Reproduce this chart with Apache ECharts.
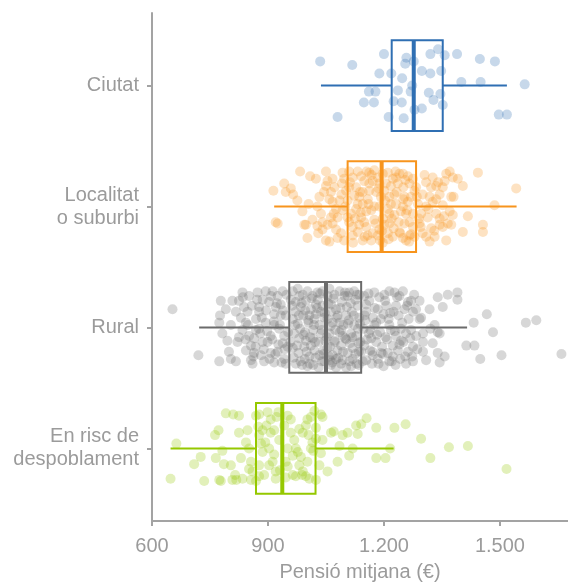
<!DOCTYPE html>
<html>
<head>
<meta charset="utf-8">
<script src="https://cdn.jsdelivr.net/npm/echarts@6/dist/echarts.min.js"></script>
<style>
    html,body{margin:0;padding:0;background:#fff;}
    #chart{width:568px;height:587px;}
</style>
</head>
<body>
<div id="chart"></div>
<script>
    var categories = ['Ciutat', 'Localitat\no suburbi', 'Rural', 'En risc de\ndespoblament'];
    var colors = ['#2f6fb3', '#f7941d', '#6b6b6b', '#95c800'];
    var xTicks = [600, 900, 1200, 1500];
    // min, Q1, mediana, Q3, max
    var boxCiutat = [1037, 1220, 1277, 1352, 1518];
    var boxLocalitat = [916, 1106, 1194, 1283, 1543];
    var boxRural = [722, 955, 1050, 1141, 1415];
    var boxRisc = [648, 869, 937, 1023, 1225];
    // [pensio, desplaçament vertical (jitter)]
    var ptsCiutat = [[1035,-0.20],[1118,-0.17],[1200,-0.26],[1188,-0.10],[1219,-0.10],[1258,-0.23],[1255,-0.18],[1277,-0.20],[1247,-0.06],[1320,-0.26],[1340,-0.30],[1357,-0.25],[1389,-0.26],[1298,-0.12],[1320,-0.10],[1348,-0.12],[1448,-0.22],[1487,-0.20],[1400,-0.03],[1450,-0.03],[1564,-0.01],[1161,0.05],[1178,0.05],[1236,0.04],[1269,0.05],[1273,0.00],[1316,0.06],[1346,0.07],[1148,0.14],[1174,0.14],[1225,0.13],[1246,0.14],[1328,0.12],[1352,0.16],[1279,0.20],[1298,0.19],[1080,0.26],[1212,0.26],[1251,0.27],[1497,0.24],[1518,0.24]];
    var ptsLocalitat = [[914,-0.13],[942,-0.19],[946,-0.12],[959,-0.15],[965,-0.10],[920,0.13],[925,0.14],[983,-0.29],[1009,-0.25],[1024,-0.23],[1050,-0.29],[1054,-0.21],[1050,-0.17],[1005,-0.02],[1033,-0.08],[998,0.15],[994,0.15],[1028,0.16],[1002,0.26],[1050,0.28],[1059,0.29],[1037,0.06],[1059,-0.06],[1067,-0.04],[1063,0.09],[1067,0.14],[1076,0.19],[1054,0.15],[1041,0.13],[1093,-0.28],[1097,-0.23],[1091,-0.19],[1102,-0.13],[1110,-0.16],[1085,-0.05],[1080,0.09],[1106,0.09],[1110,0.13],[1097,0.28],[1119,0.24],[1132,-0.29],[1141,-0.25],[1149,-0.21],[1128,-0.16],[1136,-0.08],[1145,-0.02],[1128,0.02],[1141,0.09],[1154,0.17],[1145,0.28],[1158,0.24],[1162,-0.28],[1175,-0.30],[1184,-0.24],[1162,-0.13],[1167,0.03],[1175,0.11],[1188,0.19],[1197,0.30],[1192,-0.08],[1205,-0.19],[1210,-0.28],[1218,-0.17],[1227,-0.10],[1231,-0.02],[1227,0.07],[1214,0.14],[1210,0.22],[1223,0.25],[1240,-0.27],[1249,-0.27],[1262,-0.25],[1266,-0.19],[1275,-0.23],[1279,-0.13],[1253,-0.08],[1249,0.00],[1257,0.06],[1266,0.13],[1275,0.17],[1266,0.24],[1249,0.26],[1257,0.28],[1283,-0.16],[1288,-0.02],[1296,0.06],[1292,0.14],[1309,-0.20],[1318,-0.08],[1326,-0.04],[1313,0.09],[1322,0.18],[1309,0.25],[1318,0.29],[1335,-0.06],[1344,-0.10],[1352,-0.16],[1357,-0.21],[1361,-0.27],[1370,-0.29],[1378,-0.24],[1391,-0.23],[1404,-0.17],[1374,-0.08],[1380,-0.08],[1352,-0.01],[1370,0.04],[1378,0.07],[1365,0.14],[1374,0.15],[1335,0.06],[1344,0.10],[1352,0.17],[1331,0.25],[1361,0.28],[1404,0.21],[1417,0.08],[1443,-0.28],[1456,0.15],[1456,0.21],[1486,-0.01],[1542,-0.15],[1335,-0.17],[1300,0.22],[1326,-0.24],[1119,-0.24],[1123,-0.09],[1132,-0.02],[1149,0.13],[1158,-0.06],[1162,-0.19],[1171,-0.21],[1180,-0.12],[1188,0.00],[1197,0.10],[1201,-0.13],[1210,0.02],[1214,-0.08],[1223,-0.23],[1236,-0.19],[1238,0.13],[1244,0.04],[1250,-0.16],[1262,-0.04],[1270,-0.08],[1275,0.06],[1119,0.17],[1132,0.21],[1115,0.06],[1154,0.04],[1171,0.22],[1197,-0.27],[1214,0.06],[1240,0.21],[1279,0.25],[1093,0.03],[1076,0.02],[1072,-0.16],[1063,-0.12],[1106,-0.05],[1136,0.15],[1167,0.28],[1184,0.24],[1201,0.15],[1218,-0.02],[1231,-0.24],[1253,0.14],[1089,0.22],[1028,0.00],[1015,0.11],[989,0.04],[976,-0.05],[1067,-0.23],[1041,0.19],[1309,0.00],[1322,-0.16],[1344,0.15],[1300,-0.10],[1188,-0.19],[1145,-0.12],[1110,-0.29],
        [1100,0.00],[1112,-0.20],[1125,0.10],[1138,-0.12],[1150,0.25],[1160,-0.02],[1168,-0.26],[1178,0.14],[1186,-0.15],[1195,0.20],[1203,-0.05],[1212,0.27],[1220,0.10],[1233,-0.12],[1242,0.22],[1255,-0.22],[1260,0.03],[1270,0.23],[1285,-0.08],[1295,0.17],[1305,-0.26],[1315,0.02],[1330,0.20],[1340,-0.20],[1355,0.08],[1090,-0.10],[1080,0.26],[1070,0.06],[1045,-0.12],[1030,0.22],[1120,0.30],[1155,-0.29],[1190,0.28],[1230,-0.29],[1265,0.29],[1140,0.05],[1175,0.00],[1225,0.18],[1250,-0.06],[1290,0.10]];
    var ptsRural = [[653,-0.15],[720,0.23],[774,0.28],[778,-0.22],[776,-0.10],[774,-0.04],[782,0.05],[799,0.20],[804,0.26],[808,-0.22],[825,-0.22],[834,-0.29],[830,-0.08],[834,0.02],[825,0.08],[843,0.19],[856,0.27],[860,0.30],[851,0.07],[864,0.09],[873,-0.29],[877,-0.17],[869,-0.07],[877,-0.13],[894,-0.30],[912,-0.30],[903,-0.21],[916,-0.11],[899,0.12],[907,0.21],[890,0.28],[916,0.29],[933,-0.19],[929,0.01],[938,0.13],[942,0.26],[946,-0.10],
        [791,-0.15],[804,-0.02],[817,-0.13],[821,0.12],[838,-0.17],[843,-0.04],[851,-0.26],[856,0.15],[864,0.21],[877,0.01],[882,0.23],[886,-0.23],[894,-0.04],[907,0.07],[916,-0.02],[925,-0.26],[925,0.20],[933,-0.10],[942,0.07],[946,0.30],[817,0.28],[795,0.11],[847,-0.13],[869,0.02],[886,0.12],[920,-0.17],[938,-0.30],[951,0.16],
        [964,-0.30],[977,-0.32],[990,-0.27],[1002,-0.30],[1015,-0.26],[1028,-0.29],[1041,-0.30],[972,-0.21],[985,-0.17],[998,-0.22],[1011,-0.15],[1024,-0.19],[1037,-0.13],[964,-0.07],[977,-0.03],[991,-0.10],[1005,-0.04],[1020,-0.07],[1033,-0.02],[1046,-0.08],[968,0.05],[981,0.09],[996,0.04],[1009,0.08],[1022,0.12],[1037,0.05],[1048,0.11],[964,0.17],[979,0.21],[994,0.16],[1007,0.24],[1020,0.19],[1033,0.23],[1046,0.28],[972,0.30],[988,0.31],[1002,0.32],[1017,0.31],[1031,0.33],[1043,0.19],
        [1059,-0.32],[1072,-0.27],[1085,-0.30],[1098,-0.26],[1110,-0.29],[1123,-0.30],[1136,-0.27],[1063,-0.19],[1076,-0.15],[1091,-0.21],[1104,-0.17],[1117,-0.13],[1132,-0.18],[1054,-0.07],[1067,-0.04],[1080,-0.10],[1095,-0.02],[1109,-0.06],[1123,-0.02],[1136,-0.08],[1059,0.05],[1072,0.11],[1085,0.04],[1100,0.09],[1112,0.13],[1128,0.07],[1139,0.12],[1054,0.17],[1067,0.23],[1080,0.19],[1093,0.27],[1106,0.21],[1119,0.26],[1135,0.20],[1063,0.31],[1076,0.33],[1089,0.30],[1102,0.33],[1115,0.32],[1129,0.30],[1060,0.16],
        [1149,-0.26],[1162,-0.22],[1175,-0.29],[1188,-0.25],[1201,-0.27],[1214,-0.30],[1227,-0.29],[1240,-0.26],[1249,-0.30],[1270,-0.22],[1283,-0.15],[1292,-0.22],[1154,-0.13],[1171,-0.08],[1184,-0.15],[1199,-0.11],[1212,-0.07],[1225,-0.13],[1238,-0.10],[1253,-0.15],[1264,-0.07],[1275,-0.13],[1147,0.01],[1161,0.05],[1175,-0.02],[1190,0.04],[1204,0.08],[1218,0.02],[1231,0.07],[1244,0.01],[1257,0.05],[1270,0.02],[1292,-0.07],[1149,0.15],[1164,0.19],[1180,0.12],[1195,0.16],[1210,0.21],[1223,0.15],[1236,0.19],[1250,0.12],[1262,0.20],[1275,0.16],[1301,0.05],[1154,0.27],[1169,0.30],[1184,0.26],[1199,0.32],[1214,0.28],[1230,0.31],[1242,0.26],[1257,0.30],[1273,0.24],[1301,0.20],[1309,0.27],
        [1318,-0.15],[1320,0.01],[1326,0.13],[1331,-0.02],[1339,0.04],[1344,0.05],[1339,-0.25],[1352,-0.17],[1365,-0.27],[1390,-0.29],[1390,-0.23],[1301,0.12],[1339,0.21],[1344,0.29],[1357,0.24],[1413,0.15],[1434,0.15],[1432,-0.04],[1466,-0.11],[1482,0.04],[1449,0.26],[1504,0.23],[1567,-0.04],[1594,-0.06],[1659,0.22],[1296,-0.08],
        [959,-0.23],[971,-0.13],[983,0.01],[995,0.26],[1007,-0.10],[1017,0.02],[1029,-0.23],[1040,0.28],[1011,0.15],[1024,-0.11],[981,-0.26],[998,0.11],[1041,-0.18],[1063,-0.13],[1074,0.02],[1089,0.15],[1102,-0.10],[1115,0.05],[1126,-0.23],[1135,0.31],[1060,0.27],[1085,-0.04],[1106,-0.26],[1119,0.17],[1093,0.07],[1054,-0.26],[1133,0.01],[1076,0.26],[1154,-0.19],[1180,-0.04],[1206,-0.18],[1223,0.24],[1244,0.11],[1262,-0.21],[1193,0.21],[1167,0.09],[1214,-0.02],[1231,-0.18],[1171,0.23],[1275,0.28],[1283,0.07],[1141,0.20],[1152,-0.06],
        [835,-0.25],[842,0.10],[848,-0.02],[858,-0.18],[862,0.24],[868,0.16],[872,-0.23],[880,0.05],[884,-0.08],[889,0.18],[895,-0.14],[898,0.03],[904,0.26],[908,-0.26],[911,0.10],[915,-0.05],[919,0.22],[923,-0.20],[927,0.14],[931,-0.02],[935,0.29],[939,-0.14],[943,0.18],[948,-0.27],[952,0.04],
        [958,0.12],[962,-0.18],[966,0.25],[970,-0.02],[975,0.15],[980,-0.10],[984,0.28],[987,-0.20],[992,0.06],[996,-0.14],[1000,0.20],[1004,-0.06],[1008,0.30],[1013,-0.24],[1016,0.09],[1019,-0.02],[1023,0.25],[1027,-0.16],[1031,0.12],[1035,-0.28],[1039,0.02],[1044,0.22],[1047,-0.12],[1052,0.08],[1056,-0.20],[1058,0.24],[1062,-0.01],[1066,0.29],[1069,-0.24],[1073,0.12],[1078,-0.08],[1082,0.25],[1087,-0.16],[1090,0.02],[1094,0.20],[1099,-0.29],[1103,0.10],[1107,-0.03],[1111,0.28],[1114,-0.20],[1118,0.08],[1122,-0.10],[1126,0.22],[1130,-0.27],[1134,0.13],[1138,-0.03],
        [1145,0.28],[1150,-0.10],[1156,0.10],[1160,-0.28],[1165,0.02],[1170,0.20],[1176,-0.16],[1182,0.06],[1186,0.30],[1192,-0.07],[1197,0.22],[1203,-0.22],[1208,0.10],[1216,-0.12],[1220,0.28],[1228,0.03],[1234,-0.25],[1240,0.14],[1247,-0.04],[1255,0.24],[1260,-0.18],[1268,0.09],[1278,-0.27],[1286,0.18]];
    var ptsRisc = [[663,-0.04],[648,0.25],[709,0.13],[726,0.07],[735,0.27],[763,-0.11],[772,-0.15],[765,0.08],[782,0.02],[774,0.26],[778,0.27],[791,-0.29],[810,-0.28],[825,-0.27],[786,0.13],[804,0.14],[815,0.22],[818,0.26],[808,0.26],[825,-0.13],[830,0.08],[847,-0.15],[851,0.00],[856,0.11],[851,0.17],[860,0.19],[869,-0.27],[877,-0.28],[875,-0.18],[899,-0.30],[896,-0.19],[907,-0.13],[916,-0.15],[882,-0.04],[893,-0.05],[903,0.00],[886,0.03],[877,0.14],[890,0.22],[869,0.27],[916,0.05],[912,0.11],[922,-0.26],[927,-0.30],[920,0.19],[931,0.18],[946,0.11],[951,0.15],[946,0.24],[964,0.22],[942,-0.19],[951,-0.27],[959,-0.13],[968,-0.07],[972,0.00],[977,0.03],[981,-0.16],[990,-0.13],[998,-0.19],[1011,-0.26],[1020,-0.31],[1037,-0.28],[1041,-0.26],[1005,-0.11],[1015,-0.05],[1011,0.00],[1017,0.02],[1024,-0.08],[1037,0.04],[1041,-0.07],[972,0.23],[988,0.22],[998,0.23],[1007,0.25],[1024,0.26],[981,0.14],[1002,0.11],[1054,0.19],[1063,-0.13],[1070,-0.14],[1080,0.11],[1085,-0.02],[1093,-0.11],[1106,-0.13],[1110,0.06],[1119,0.00],[1128,-0.19],[1132,-0.12],[1141,-0.20],[1155,-0.25],[1180,-0.17],[1180,0.08],[1204,0.08],[1216,0.00],[1227,-0.17],[1256,-0.20],[1296,-0.08],[1320,0.08],[1368,-0.01],[1417,-0.02],[1517,0.17],
        [877,-0.11],[903,0.14],[920,0.25],[951,0.00],[964,0.06],[985,0.07],[886,-0.15],[907,-0.24],[929,-0.07],[959,-0.24],[990,0.19],[1002,-0.24],[1024,-0.17],[1033,0.14],[843,-0.05],[834,0.25],[856,0.26],[877,0.23]];

    var boxStats = [boxCiutat, boxLocalitat, boxRural, boxRisc];
    var pointSets = [ptsCiutat, ptsLocalitat, ptsRural, ptsRisc];
    var boxHeight = 0.75;   // en unitats de categoria
    var textColor = '#9b9b9b';
    var axisColor = '#a3a3a3';

    var chart = echarts.init(document.getElementById('chart'));

    var series = [];
    // punts (jitter)
    for (var i = 0; i < pointSets.length; i++) {
        var data = [];
        for (var j = 0; j < pointSets[i].length; j++) {
            data.push([pointSets[i][j][0], i + 1 + pointSets[i][j][1]]);
        }
        series.push({
            type: 'scatter',
            data: data,
            symbol: 'circle',
            symbolSize: 10,
            itemStyle: {color: colors[i], opacity: 0.27, borderWidth: 0},
            silent: true,
            z: 2
        });
    }

    // caixes
    var boxData = [];
    for (var k = 0; k < boxStats.length; k++) {
        boxData.push([k + 1].concat(boxStats[k]));
    }
    series.push({
        type: 'custom',
        data: boxData,
        encode: {x: [1, 2, 3, 4, 5], y: 0},
        z: 5,
        silent: true,
        renderItem: function (params, api) {
            var cat = api.value(0);
            var lo = api.coord([api.value(1), cat]);
            var q1 = api.coord([api.value(2), cat]);
            var md = api.coord([api.value(3), cat]);
            var q3 = api.coord([api.value(4), cat]);
            var hi = api.coord([api.value(5), cat]);
            var h = api.size([0, boxHeight])[1];
            var c = colors[params.dataIndex];
            return {
                type: 'group',
                children: [
                    {type: 'line', shape: {x1: lo[0], y1: lo[1], x2: q1[0], y2: q1[1]}, style: {stroke: c, lineWidth: 2}},
                    {type: 'line', shape: {x1: q3[0], y1: q3[1], x2: hi[0], y2: hi[1]}, style: {stroke: c, lineWidth: 2}},
                    {type: 'rect', shape: {x: q1[0], y: q1[1] - h / 2, width: q3[0] - q1[0], height: h}, style: {stroke: c, fill: 'none', lineWidth: 2}},
                    {type: 'line', shape: {x1: md[0], y1: md[1] - h / 2, x2: md[0], y2: md[1] + h / 2}, style: {stroke: c, lineWidth: 4}}
                ]
            };
        }
    });

    chart.setOption({
        animation: false,
        grid: {left: 152, right: 0, top: 13, bottom: 59, containLabel: false},
        xAxis: {
            type: 'value',
            min: 600,
            max: 1676,
            name: 'Pensió mitjana (€)',
            nameLocation: 'middle',
            nameGap: 41,
            nameTextStyle: {color: textColor, fontSize: 20, fontFamily: 'Liberation Sans'},
            axisLine: {show: true, lineStyle: {color: axisColor, width: 2}},
            axisTick: {show: true, length: 5, customValues: xTicks, lineStyle: {color: axisColor, width: 2}},
            axisLabel: {
                customValues: xTicks,
                margin: 15,
                color: textColor,
                fontSize: 20,
                fontFamily: 'Liberation Sans',
                formatter: function (v) {
                    return v >= 1000 ? Math.floor(v / 1000) + '.' + String(v % 1000).padStart(3, '0') : String(v);
                }
            },
            splitLine: {show: false}
        },
        yAxis: {
            type: 'value',
            min: 0.4,
            max: 4.6,
            inverse: true,
            axisLine: {show: true, lineStyle: {color: axisColor, width: 2}},
            axisTick: {show: true, length: 5, customValues: [1, 2, 3, 4], lineStyle: {color: axisColor, width: 2}},
            axisLabel: {
                customValues: [1, 2, 3, 4],
                margin: 13,
                color: textColor,
                fontSize: 20,
                lineHeight: 23,
                align: 'right',
                fontFamily: 'Liberation Sans',
                formatter: function (v) {
                    return categories[Math.round(v) - 1];
                }
            },
            splitLine: {show: false}
        },
        series: series
    });
</script>
</body>
</html>
